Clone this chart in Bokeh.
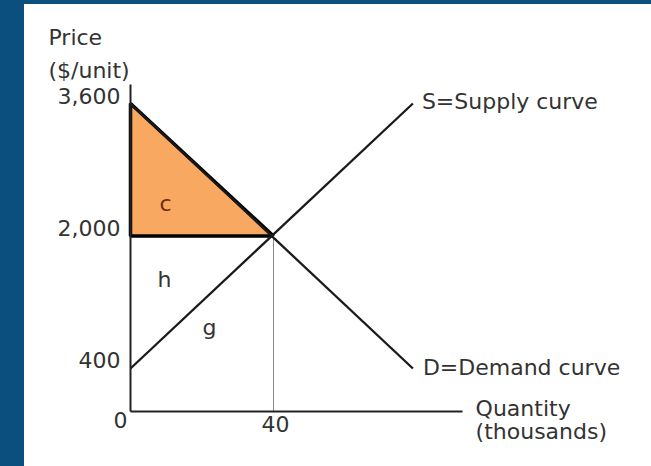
from bokeh.plotting import figure
from bokeh.models import Range1d, LabelSet, ColumnDataSource, FixedTicker, Spacer
from bokeh.layouts import row, column
from bokeh.core.properties import value
from bokeh.embed import file_html
from bokeh.resources import INLINE

# ---- data ----
supply_q = [0, 79]
supply_p = [400, 3600]
demand_q = [0, 79]
demand_p = [3600, 400]
eq_q = 40
eq_p = 2000
surplus_q = [0, 0, 40]          # triangle c
surplus_p = [3600, 2000, 2000]
price_ticks = [400, 2000, 3600]
price_tick_labels = ["400", "2,000", "3,600"]
qty_ticks = [40]
qty_tick_labels = ["40"]
area_labels = ["c", "h", "g"]
area_q = [9.8, 9.5, 22.1]
area_p = [2308, 1382, 799]

# axis extents (data units)
QX_MIN, QX_MAX = 0, 92.9
PY_MIN, PY_MAX = -119, 3829
# visible window (data units)
VX0, VX1 = -26.29, 142.38
VY0, VY1 = -638.6, 4651

FONT = "DejaVu Sans"
FS = "22px"
TXT = "#333333"
BLUE = "#0b4f7e"

p = figure(width=627, height=462, x_range=Range1d(VX0, VX1), y_range=Range1d(VY0, VY1),
           output_backend="svg", toolbar_location=None,
           min_border_left=12, min_border_right=12, min_border_top=12, min_border_bottom=12,
           background_fill_color="white", border_fill_color="white", outline_line_color=None)
p.grid.visible = False
p.xaxis.fixed_location = PY_MIN
p.xaxis.bounds = (QX_MIN, QX_MAX)
p.yaxis.fixed_location = QX_MIN
p.yaxis.bounds = (PY_MIN, PY_MAX)
for ax in (p.xaxis[0], p.yaxis[0]):
    ax.ticker = FixedTicker(ticks=[])
    ax.major_tick_line_color = None
    ax.minor_tick_line_color = None
    ax.major_label_text_font_size = "0px"
    ax.axis_line_width = 2
    ax.axis_line_color = "#222222"

# shaded triangle
p.patch(surplus_q, surplus_p, fill_color="#f8a860", line_color="black", line_width=3.5)
# drop line at equilibrium quantity
p.line([eq_q, eq_q], [PY_MIN, eq_p], line_color="#8a8a8a", line_width=1)
# supply / demand
p.line(supply_q, supply_p, line_color="#1a1a1a", line_width=2.3)
p.line(demand_q, demand_p, line_color="#1a1a1a", line_width=2.3)

vcommon = dict(text_font=value(FONT), text_font_size=value(FS), text_baseline=value("alphabetic"))

# tick labels
ysrc = ColumnDataSource(dict(x=[QX_MIN] * len(price_ticks), y=price_ticks, t=price_tick_labels))
p.add_layout(LabelSet(x="x", y="y", text="t", source=ysrc, x_offset=-10, y_offset=0,
                      text_align=value("right"), text_color=value(TXT), **vcommon))
xsrc = ColumnDataSource(dict(x=qty_ticks, y=[PY_MIN] * len(qty_ticks), t=qty_tick_labels))
p.add_layout(LabelSet(x="x", y="y", text="t", source=xsrc, x_offset=2, y_offset=-21,
                      text_align=value("center"), text_color=value(TXT), **vcommon))

# free text: origin, axis titles, curve names
free = dict(
    t=["0", "Price", "($/unit)", "Quantity", "(thousands)", "S=Supply curve", "D=Demand curve"],
    x=[QX_MIN, QX_MIN, QX_MIN, QX_MAX, QX_MAX, supply_q[-1], demand_q[-1]],
    y=[PY_MIN, PY_MAX, PY_MAX, PY_MIN, PY_MIN, supply_p[-1], demand_p[-1]],
    xo=[-3, -82, -82, 13, 13, 9, 10],
    yo=[-17, 40, 7, -5, -28, -5, -7],
    al=["right", "left", "left", "left", "left", "left", "left"],
)
fsrc = ColumnDataSource(free)
p.add_layout(LabelSet(x="x", y="y", text="t", source=fsrc, x_offset="xo", y_offset="yo",
                      text_align="al", text_color=value(TXT), **vcommon))

# area letters
area_colors = ["#6b2f10", TXT, TXT]
asrc = ColumnDataSource(dict(x=area_q, y=area_p, t=area_labels, c=area_colors))
p.add_layout(LabelSet(x="x", y="y", text="t", source=asrc, text_align=value("center"),
                      text_color="c", **vcommon))

left_band = Spacer(width=24, height=466, styles={"background-color": BLUE})
top_band = Spacer(width=627, height=4, styles={"background-color": BLUE})
layout = row(left_band, column(top_band, p, spacing=0), spacing=0)

open("out.html", "w").write(file_html(layout, INLINE))
